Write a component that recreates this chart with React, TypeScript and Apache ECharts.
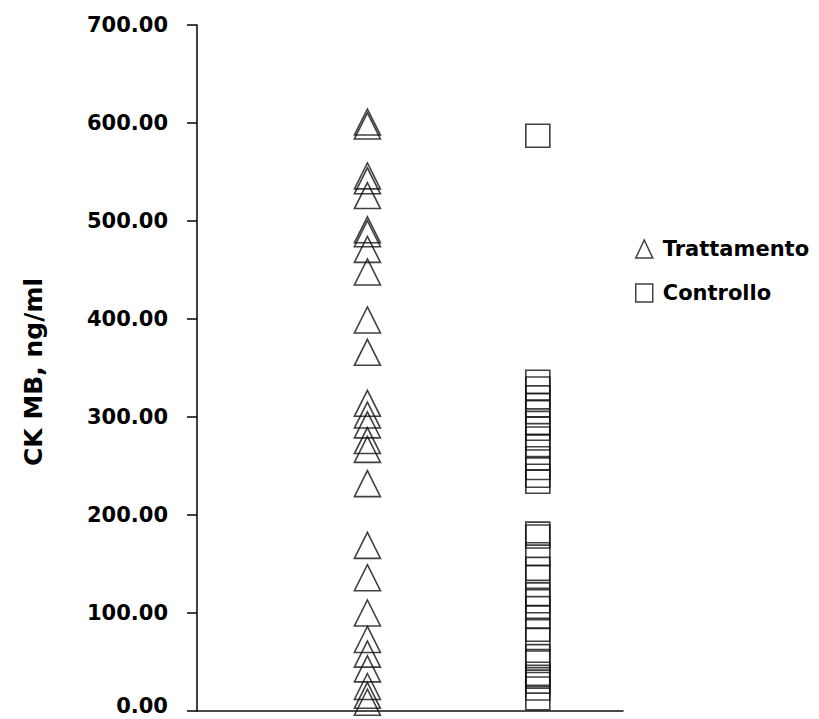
import React, { useEffect, useRef } from "react";
import * as echarts from "echarts";

// CK MB concentrations (ng/ml) for each group
const treatmentValues = [
  601, 597, 546, 541, 526, 491, 487, 471, 448, 399, 366, 314, 302, 292, 276,
  267, 232, 169, 136, 100, 73, 58, 43, 25, 16, 9,
];
const controlValues = [
  587, 336, 329, 320, 312, 305, 294, 288, 278, 270, 258, 248, 240, 234, 181,
  178, 160, 145, 137, 119, 112, 105, 96, 83, 73, 56, 51, 38, 35, 30, 23, 13,
];
const groupNames = ["Trattamento", "Controllo"];
const groupPositions = [1, 2];
const yAxisTitle = "CK MB, ng/ml";
const yMin = 0;
const yMax = 700;
const yStep = 100;

const FONT = "DejaVu Sans";

export default function App() {
  const ref = useRef<HTMLDivElement>(null);

  useEffect(() => {
    if (!ref.current) return;
    const chart = echarts.init(ref.current, undefined, { renderer: "svg" });
    const markerStyle = {
      color: "transparent",
      borderColor: "#111",
      borderWidth: 1.6,
    };
    chart.setOption({
      animation: false,
      backgroundColor: "#fff",
      grid: {
        left: 197,
        right: 196,
        top: 25,
        bottom: 8,
        containLabel: false,
        outerBoundsMode: "none",
      },
      xAxis: {
        type: "value",
        min: 0,
        max: 2.5,
        axisLine: { show: true, onZero: false, lineStyle: { color: "#111", width: 1.6 } },
        axisTick: { show: false },
        axisLabel: { show: false },
        splitLine: { show: false },
      },
      yAxis: {
        type: "value",
        min: yMin,
        max: yMax,
        interval: yStep,
        axisLine: { show: true, lineStyle: { color: "#111", width: 1.6 } },
        axisTick: { show: true, inside: false, length: 10, lineStyle: { color: "#111", width: 1.6 } },
        axisLabel: {
          margin: 29,
          fontFamily: FONT,
          fontSize: 21,
          fontWeight: "bold",
          color: "#000",
          // the lowest label sits a little above its tick so it stays inside the chart
          formatter: (v: number) => (v === yMin ? `{low|${v.toFixed(2)}}` : v.toFixed(2)),
          rich: {
            low: {
              fontFamily: FONT,
              fontSize: 21,
              fontWeight: "bold",
              color: "#000",
              padding: [0, 0, 11, 0],
            },
          },
        },
        splitLine: { show: false },
      },
      legend: {
        orient: "vertical",
        left: 630,
        top: 233,
        itemWidth: 17,
        itemHeight: 18,
        itemGap: 22,
        data: [
          { name: groupNames[0], icon: "triangle" },
          { name: groupNames[1], icon: "rect" },
        ],
        itemStyle: { color: "transparent", borderColor: "#111", borderWidth: 1.5 },
        textStyle: {
          fontFamily: FONT,
          fontSize: 21,
          fontWeight: "bold",
          color: "#000",
          lineHeight: 22,
          padding: [0, 0, 0, 5],
        },
      },
      graphic: [
        {
          type: "text",
          x: 33,
          y: 372,
          rotation: Math.PI / 2,
          style: {
            text: yAxisTitle,
            fontFamily: FONT,
            fontSize: 25,
            fontWeight: "bold",
            fill: "#000",
            align: "center",
            verticalAlign: "middle",
          },
        },
      ],
      series: [
        {
          name: groupNames[0],
          type: "scatter",
          symbol: "triangle",
          symbolSize: [26, 26],
          itemStyle: markerStyle,
          data: treatmentValues.map((v) => [groupPositions[0], v]),
        },
        {
          name: groupNames[1],
          type: "scatter",
          symbol: "rect",
          symbolSize: [24, 23],
          itemStyle: markerStyle,
          data: controlValues.map((v) => [groupPositions[1], v]),
        },
      ],
    });
    return () => chart.dispose();
  }, []);

  return (
    <div
      ref={ref}
      style={{ position: "fixed", left: 0, top: 0, width: 819, height: 719, background: "#fff" }}
    />
  );
}
